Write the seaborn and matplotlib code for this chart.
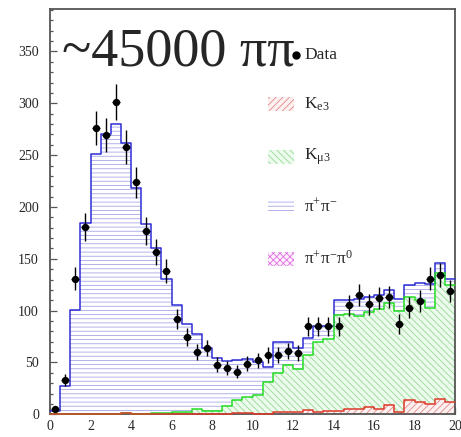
import numpy as np
import pandas as pd
import matplotlib
matplotlib.use("Agg")
import matplotlib.pyplot as plt
from matplotlib.patches import Rectangle
from matplotlib.lines import Line2D
from matplotlib.ticker import MultipleLocator
import seaborn as sns

# ---- histogram binning: 40 bins of width 0.5 from 0 to 20 ----
edges = [float(e) for e in np.linspace(0.0, 20.0, 41)]
centers = [0.5 * (a + b) for a, b in zip(edges[:-1], edges[1:])]

# ---- simulated components (entries per bin) ----
ke3 = [0, 0, 0, 0, 0, 0, 0, 1, 0, 0,
       0, 0, 0, 0, 0, 0, 0, 0, 1, 1,
       0, 0, 2, 2.5, 2.5, 4, 2, 3, 3, 5,
       5, 7.5, 5.5, 9, 2.5, 14, 11.5, 10, 14.5, 12]
kmu3 = [0, 0, 0, 0, 0, 0, 0, 0, 0, 0,
        1.5, 1.5, 2, 2, 5, 3.5, 3.5, 8, 13, 16,
        19, 31, 38, 45.5, 41.5, 53, 68, 70, 93, 92,
        90, 91.5, 96.5, 98, 97.5, 99, 98.5, 93, 121.5, 113]
pipipi0 = [0, 0, 0, 0, 0, 0, 0, 0, 0, 0,
           0, 0, 0, 0, 0, 0, 0, 0, 0, 0,
           0, 0, 0, 0, 0, 0, 0, 0, 0, 0,
           0, 0, 0, 0, 0, 0, 0, 0, 0, 0]
pipi = [3, 27, 101, 185, 251, 270, 280, 261, 218, 184,
        158.5, 129.5, 103, 85, 72, 60.5, 50.5, 43, 38, 36,
        31, 15, 30, 22, 20, 17, 15, 12, 14, 13,
        16, 14, 13, 13, 11, 12, 17, 23, 10, 6]

# ---- measured data ----
data_counts = [5, 33, 131, 181, 276, 269, 301, 258, 224, 177,
               157, 138, 92, 75, 60, 64, 48, 45, 41, 49,
               52, 57, 57, 61, 59, 85, 85, 85, 85, 105,
               115, 106, 112, 113, 87, 103, 109, 131, 134, 119]

big_label = "~45000 \u03c0\u03c0"
legend_labels = ["Data",
                 r"$\mathrm{K}_{\mathrm{e3}}$",
                 r"$\mathrm{K}_{\mathrm{\mu 3}}$",
                 r"$\mathrm{\pi}^{+}\mathrm{\pi}^{-}$",
                 r"$\mathrm{\pi}^{+}\mathrm{\pi}^{-}\mathrm{\pi}^{0}$"]

# ---- style ----
sns.set_style("ticks", {"xtick.direction": "in", "ytick.direction": "in"})
plt.rcParams["font.family"] = ["Liberation Serif", "DejaVu Serif"]
plt.rcParams["mathtext.fontset"] = "custom"
plt.rcParams["mathtext.rm"] = "Liberation Serif"
plt.rcParams["mathtext.it"] = "Liberation Serif:italic"
plt.rcParams["hatch.linewidth"] = 0.6

W, H = 461, 437
fig = plt.figure(figsize=(W / 100, H / 100), dpi=100)
ax = fig.add_axes([50 / W, (H - 414.3) / H, 405 / W, 405.3 / H])

# stacked totals, each drawn over the previous one
lay_red = np.array(ke3, dtype=float)
lay_green = lay_red + np.array(kmu3)
lay_pink = lay_green + np.array(pipipi0)
lay_total = lay_pink + np.array(pipi)

face_cols = {"total": "#ffffff", "pink": "#fdf0fd", "green": "#eefaee", "red": "#fcf0f0"}
hatch_cols = {"total": "#a6a6e8", "pink": "#e070e0", "green": "#92dc92", "red": "#e48888"}
line_cols = {"total": "#2d2dd6", "pink": "#d040d0", "green": "#22dd22", "red": "#dd3a2a"}
hatches = {"total": "----", "pink": "xxxxx", "green": "\\" * 5, "red": "/" * 5}
layers = [("total", lay_total), ("pink", lay_pink), ("green", lay_green), ("red", lay_red)]

frames = {key: pd.DataFrame({"mass": centers, "entries": h}) for key, h in layers}

for key, _ in layers:
    sns.histplot(data=frames[key], x="mass", weights="entries", bins=edges,
                 element="step", fill=True, facecolor=face_cols[key],
                 edgecolor=hatch_cols[key], hatch=hatches[key], linewidth=0, ax=ax)
for key, _ in layers:
    if key == "pink":
        continue
    sns.histplot(data=frames[key], x="mass", weights="entries", bins=edges,
                 element="step", fill=False, color=line_cols[key],
                 linewidth=1.1, zorder=3, clip_on=False, ax=ax)

# data points with statistical errors
ax.errorbar(centers, data_counts, yerr=np.sqrt(data_counts), xerr=0.2,
            fmt="none", ecolor="black", elinewidth=1.0, zorder=4)
sns.scatterplot(x=centers, y=data_counts, color="black", s=28, edgecolor="black",
                linewidth=0, zorder=5, ax=ax)

ax.set_xlim(0, 20)
ax.set_ylim(0, 391)
ax.set_xlabel("")
ax.set_ylabel("")
ax.xaxis.set_major_locator(MultipleLocator(2))
ax.xaxis.set_minor_locator(MultipleLocator(0.5))
ax.yaxis.set_major_locator(MultipleLocator(50))
ax.yaxis.set_minor_locator(MultipleLocator(10))
ax.tick_params(which="both", direction="in", color="#555555", width=0.9,
               labelsize=10, top=False, right=False)
ax.tick_params(axis="y", which="major", length=5, pad=8)
ax.tick_params(axis="y", which="minor", length=2.5)
ax.tick_params(axis="x", which="major", length=5, pad=4)
ax.tick_params(axis="x", which="minor", length=2.5)
for s in ax.spines.values():
    s.set_visible(True)
    s.set_color("#555555")
    s.set_linewidth(1.3)


def fpos(x, y):
    return x / W, 1 - y / H


# big label
fig.text(*fpos(62, 66), big_label, fontsize=39, va="baseline", ha="left")

# legend
fig.add_artist(Line2D([fpos(296, 0)[0]], [fpos(0, 55)[1]], marker="o", color="black",
                      markersize=5, linestyle="none", transform=fig.transFigure))
fig.text(*fpos(304, 55), legend_labels[0], fontsize=12.5, va="center", ha="left")
boxes = [("red", 104), ("green", 157), ("total", 206), ("pink", 259)]
for (key, yc), lab in zip(boxes, legend_labels[1:]):
    x0, y0 = fpos(268, yc + 7)
    fig.add_artist(Rectangle((x0, y0), 26 / W, 14 / H, transform=fig.transFigure,
                             facecolor=face_cols[key], edgecolor=hatch_cols[key],
                             hatch=hatches[key], linewidth=0))
    fig.text(*fpos(304, yc), lab, fontsize=12.5, va="center", ha="left")

fig.savefig("out.png", dpi=100)
